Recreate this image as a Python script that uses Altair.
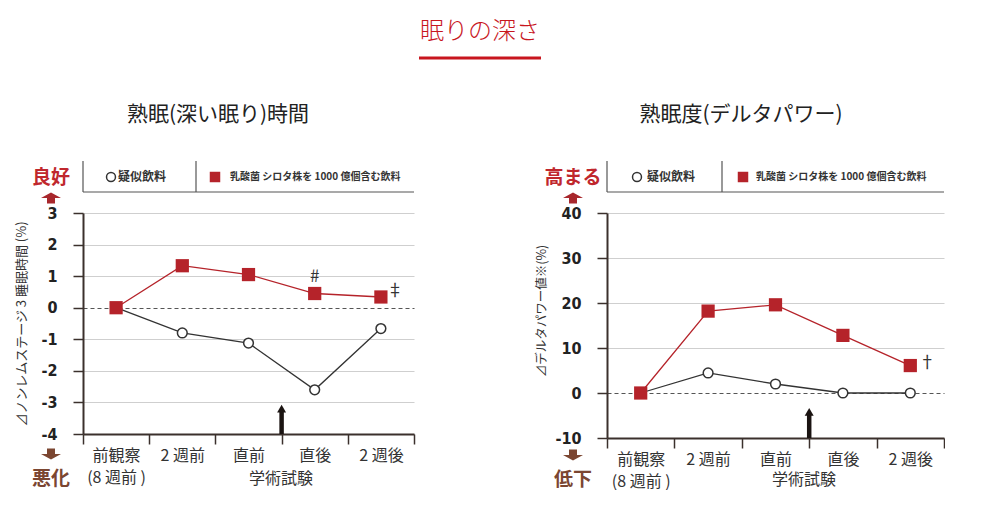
import altair as alt
import pandas as pd

# ---------------- data ----------------
categories = ["前観察", "2 週前", "直前", "直後", "2 週後"]
group_names = ["疑似飲料", "乳酸菌 シロタ株を 1000 億個含む飲料"]

left_placebo = [0, -0.8, -1.12, -2.6, -0.66]
left_lacto = [0, 1.33, 1.05, 0.45, 0.34]
left_ticks = [-4, -3, -2, -1, 0, 1, 2, 3]
left_marks = ["", "", "", "#", "‡"]

right_placebo = [0, 4.45, 2.0, 0, 0]
right_lacto = [0, 18.2, 19.6, 12.8, 6.1]
right_ticks = [-10, 0, 10, 20, 30, 40]
right_marks = ["", "", "", "", "†"]

main_title = "眠りの深さ"
left_subtitle = "熟眠(深い眠り)時間"
right_subtitle = "熟眠度(デルタパワー)"
left_ytitle = "⊿ノンレムステージ 3 睡眠時間 (%)"
right_ytitle = "⊿デルタパワー値※(%)"
xtitle = "学術試験"

# ---------------- styles ----------------
RED = "#b5232a"
DARK = "#333333"
AXIS = "#3b302c"
TITLE_RED = "#c8161e"
GOOD_RED = "#c0272d"
BROWN = "#7b4631"
JP = "Noto Sans CJK JP"
NUM = "'DejaVu Sans Condensed', 'Liberation Sans Narrow', 'Roboto Condensed', sans-serif"
UP = "M0,-0.55L1,0L0.4,0L0.4,0.55L-0.4,0.55L-0.4,0L-1,0Z"
DOWN = "M0,0.55L1,0L0.4,0L0.4,-0.55L-0.4,-0.55L-0.4,0L-1,0Z"

one = pd.DataFrame({"t": [""]})


def txt(s, x, y, size=12, color=DARK, weight="normal", align="center", angle=0, font=JP):
    kw = dict(fontSize=size, color=color, fontWeight=weight, align=align,
              baseline="middle", font=font)
    if angle:
        kw["angle"] = angle
    return alt.Chart(pd.DataFrame({"t": [s]})).mark_text(**kw).encode(
        x=alt.value(x), y=alt.value(y), text="t:N")


def hrule(x1, x2, y, color="#555555", width=1.2):
    return alt.Chart(one).mark_rule(color=color, strokeWidth=width).encode(
        x=alt.value(x1), x2=alt.value(x2), y=alt.value(y))


def vrule(x, y1, y2, color="#555555", width=1.2):
    return alt.Chart(one).mark_rule(color=color, strokeWidth=width).encode(
        x=alt.value(x), y=alt.value(y1), y2=alt.value(y2))


def sym(x, y, shape, size, color, fill=None, strokeWidth=1.5):
    if fill is None:
        m = alt.Chart(one).mark_point(shape=shape, size=size, filled=True,
                                      color=color, opacity=1)
    else:
        m = alt.Chart(one).mark_point(shape=shape, size=size, filled=True, fill=fill,
                                      stroke=color, strokeWidth=strokeWidth, opacity=1)
    return m.encode(x=alt.value(x), y=alt.value(y))


def panel(placebo, lacto, marks, ticks, W, H, shaft_top, tip, annot_offsets, deco):
    df = pd.DataFrame({"cat": categories, "placebo": placebo, "lacto": lacto, "mark": marks})
    xscale = alt.Scale(type="band", domain=categories, paddingInner=0, paddingOuter=0)
    xaxis = alt.Axis(
        title=None, grid=False, domainColor=AXIS, domainWidth=2, tickColor=AXIS,
        tickWidth=1.5, tickSize=10, tickBand="extent", labelFont=JP, labelFontSize=16,
        labelColor=DARK, labelPadding=3, labelBaseline="top", labelLineHeight=22,
        labelOverlap=False, labelAngle=0,
        labelExpr="datum.label == '前観察' ? ['前観察', '(8 週前 )'] : datum.label")
    yscale = alt.Scale(domain=[ticks[0], ticks[-1]], nice=False, zero=False)
    yaxis = alt.Axis(
        title=None, values=ticks, grid=True,
        gridColor={"condition": {"test": "datum.value === 0", "value": "#555555"}, "value": "#cfcfcf"},
        gridDash={"condition": {"test": "datum.value === 0", "value": [4, 3]}, "value": []},
        gridWidth=1.1, domainColor=AXIS, domainWidth=2, tickColor=AXIS, tickWidth=1.5,
        tickSize=10, labelFont=NUM, labelFontSize=16, labelFontWeight="bold",
        labelColor="#222222", labelPadding=16,
        labelExpr="(datum.value < 0 ? '-' : '') + abs(datum.value)")
    x = alt.X("cat:N", scale=xscale, axis=xaxis, bandPosition=0.5)
    base = alt.Chart(df)
    layers = [
        base.mark_line(color=DARK, strokeWidth=1.3).encode(
            x=x, y=alt.Y("placebo:Q", scale=yscale, axis=yaxis)),
        base.mark_point(shape="circle", size=95, filled=True, fill="white", stroke=DARK,
                        strokeWidth=1.5, opacity=1).encode(
            x=x, y=alt.Y("placebo:Q", scale=yscale, axis=yaxis)),
        base.mark_line(color=RED, strokeWidth=1.3).encode(
            x=x, y=alt.Y("lacto:Q", scale=yscale, axis=yaxis)),
        base.mark_point(shape="square", size=175, filled=True, color=RED, opacity=1).encode(
            x=x, y=alt.Y("lacto:Q", scale=yscale, axis=yaxis)),
    ]
    for sym_txt, (dx, dy) in annot_offsets.items():
        layers.append(
            base.transform_filter(alt.datum.mark == sym_txt).mark_text(
                dx=dx, dy=dy, fontSize=17, color=DARK, font=JP, baseline="middle").encode(
                x=x, y=alt.Y("lacto:Q", scale=yscale, axis=yaxis), text="mark:N"))
    arrow = pd.DataFrame({"cat": ["直前"], "y0": [ticks[0]], "y1": [shaft_top], "tip": [tip]})
    xa = alt.X("cat:N", scale=xscale, axis=xaxis, bandPosition=1)
    layers.append(alt.Chart(arrow).mark_rule(color="#1b1412", strokeWidth=4.5).encode(
        x=xa, y=alt.Y("y0:Q", scale=yscale, axis=yaxis), y2="y1:Q"))
    layers.append(alt.Chart(arrow).mark_point(shape="triangle-up", size=80, filled=True,
                                              color="#1b1412", opacity=1).encode(
        x=xa, y=alt.Y("tip:Q", scale=yscale, axis=yaxis)))
    return alt.layer(*layers, *deco).properties(width=W, height=H)


# ---------------- left panel decorations (coords relative to its plot area) ----------------
left_deco = [
    alt.Chart(one).mark_rule(color="white", strokeWidth=1).encode(
        x=alt.value(-74), x2=alt.value(-72), y=alt.value(-204)),
    txt(main_title, 397, -181, size=24, color=TITLE_RED, weight=300),
    hrule(336, 458, -155, color=TITLE_RED, width=3),
    txt(left_subtitle, 135, -98, size=21, color="#222222"),
    hrule(0, 331, -21), vrule(0, -52, -21), vrule(113, -52, -21),
    sym(28, -36, "circle", 80, DARK, fill="white"),
    txt(group_names[0], 35, -36, size=12, weight="bold", align="left"),
    sym(132, -36, "square", 110, RED),
    txt(group_names[1], 147, -36, size=10, weight="bold", align="left"),
    txt("良好", -32, -35, size=19, color=GOOD_RED, weight="bold"),
    sym(-32, -15, UP, 400, "#a8272c"),
    txt("悪化", -32, 266, size=19, color=BROWN, weight="bold"),
    sym(-32, 241, DOWN, 400, BROWN),
    txt(left_ytitle, -61, 111, size=13, color=DARK, angle=270),
    txt(xtitle, 198, 266, size=16, color=DARK),
]

right_deco = [
    txt(right_subtitle, 134, -98, size=21, color="#222222"),
    hrule(0, 337, -21), vrule(0, -52, -21), vrule(115, -52, -21),
    sym(30, -36, "circle", 80, DARK, fill="white"),
    txt(group_names[0], 40, -36, size=12, weight="bold", align="left"),
    sym(136, -36, "square", 110, RED),
    txt(group_names[1], 149, -36, size=10, weight="bold", align="left"),
    txt("高まる", -34, -35, size=19, color=GOOD_RED, weight="bold"),
    sym(-34, -15, UP, 400, "#a8272c"),
    txt("低下", -34, 267, size=19, color=BROWN, weight="bold"),
    sym(-34, 242, DOWN, 400, BROWN),
    txt(right_ytitle, -65, 98, size=12.5, color=DARK, angle=270),
    txt(xtitle, 197, 267, size=16, color=DARK),
]

left = panel(left_placebo, left_lacto, left_marks, left_ticks, 331, 221,
             -3.3, -3.2, {"#": (0, -17), "‡": (14, -6)}, left_deco)
right = panel(right_placebo, right_lacto, right_marks, right_ticks, 337, 225,
              -4.5, -4.2, {"†": (17, -3)}, right_deco)

chart = alt.hconcat(left, right, spacing=193, bounds="flush").properties(
    padding=0, background="white"
).configure_view(stroke=None)

chart.save("out.html", embed_options={"renderer": "svg", "actions": False})
